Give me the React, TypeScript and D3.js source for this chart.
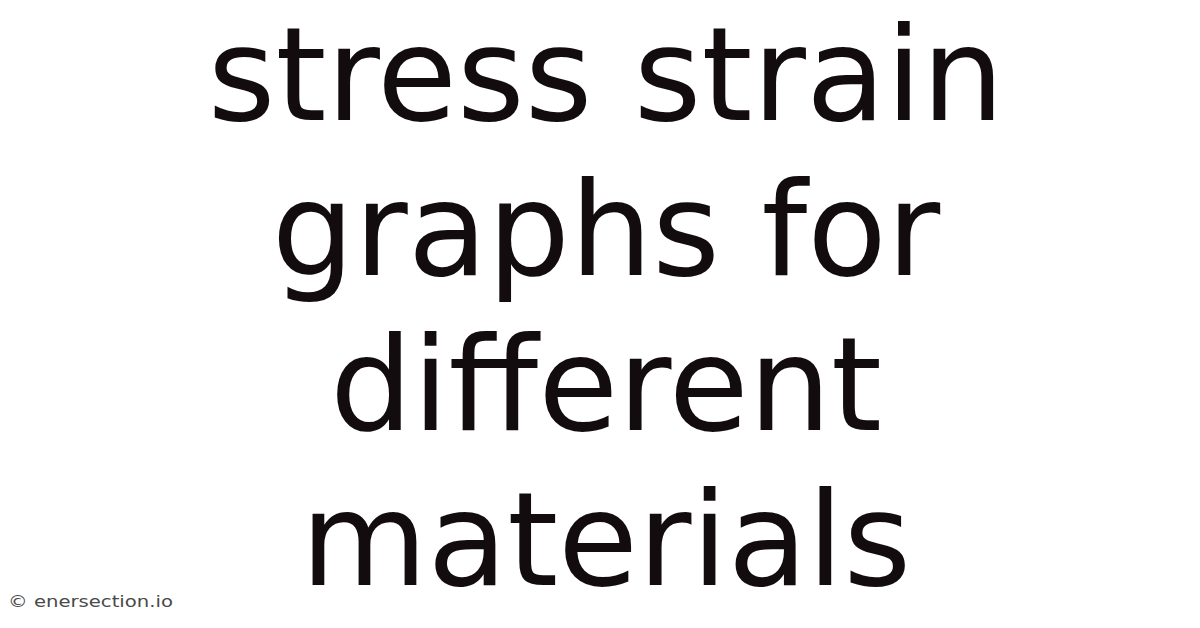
import { useEffect, useRef } from 'react';
import * as d3 from 'd3';

const titleLines = ['stress strain', 'graphs for', 'different', 'materials'];
const watermark = ['© enersection.io'];

const W = 1200;
const H = 628;

export default function App() {
  const svgRef = useRef<SVGSVGElement>(null);

  useEffect(() => {
    if (!svgRef.current) return;
    const svg = d3.select(svgRef.current);
    svg.selectAll('*').remove();

    svg.append('rect').attr('width', W).attr('height', H).attr('fill', '#ffffff');

    // baseline of each title line (line-height ~1.2em)
    const y = d3.scalePoint<string>()
      .domain(titleLines)
      .range([120, 585]);

    svg.append('g')
      .selectAll('text')
      .data(titleLines)
      .join('text')
      .attr('x', 606)
      .attr('y', d => y(d) ?? 0)
      .attr('text-anchor', 'middle')
      .attr('font-family', '"DejaVu Sans", sans-serif')
      .attr('font-size', 130)
      .attr('fill', '#130c0e')
      .text(d => d);

    // watermark, bottom left
    svg.append('g')
      .selectAll('text')
      .data(watermark)
      .join('text')
      .attr('x', 8)
      .attr('y', 607)
      .attr('font-family', '"DejaVu Sans", sans-serif')
      .attr('font-size', 15)
      .attr('textLength', 165)
      .attr('lengthAdjust', 'spacingAndGlyphs')
      .attr('fill', '#4a4a4a')
      .text(d => d);
  }, []);

  return (
    <svg
      ref={svgRef}
      width={W}
      height={H}
      style={{ position: 'absolute', top: 0, left: 0, display: 'block' }}
    />
  );
}
